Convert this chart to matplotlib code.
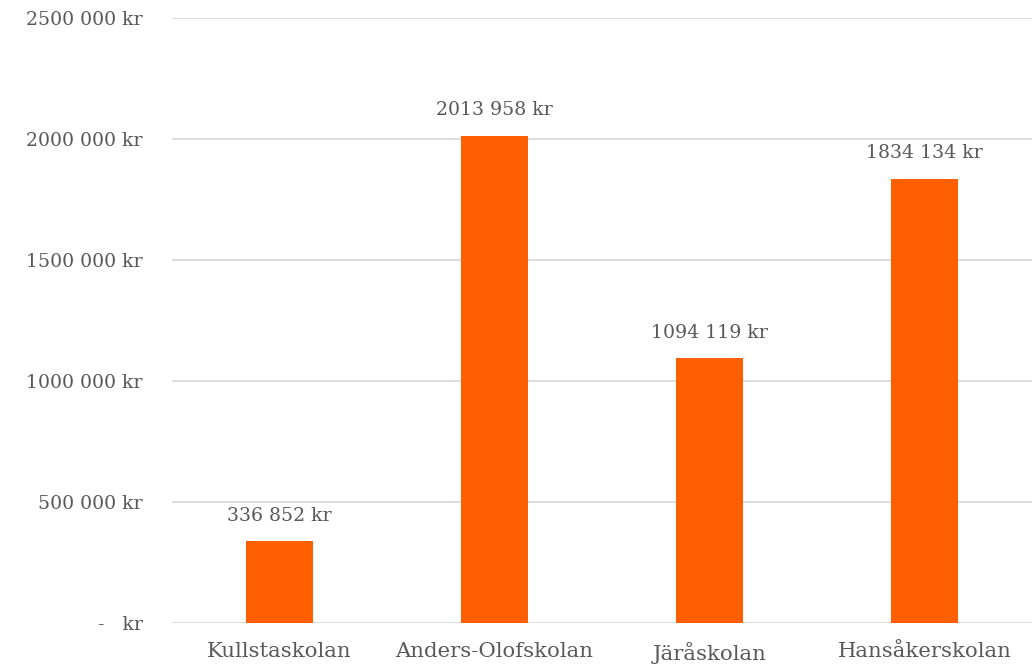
import matplotlib
matplotlib.use("Agg")
import matplotlib.pyplot as plt

schools = ["Kullstaskolan", "Anders-Olofskolan", "Järåskolan", "Hansåkerskolan"]
values = [336852, 2013958, 1094119, 1834134]
yticks = [0, 500000, 1000000, 1500000, 2000000, 2500000]

def fmt(v):
    v = int(round(v))
    if v == 0:
        return "-   kr"
    if v >= 1000:
        return f"{v // 1000} {v % 1000:03d} kr"
    return f"{v} kr"

plt.rcParams['font.family'] = ['DejaVu Serif']
text_color = "#595959"
fs = 13.6

fig = plt.figure(figsize=(10.32, 6.65), dpi=100)
ax = fig.add_axes([172/1032, 1 - 623/665, 1 - 172/1032, (623 - 18)/665])

x = list(range(len(schools)))
bars = ax.bar(x, values, width=0.315, color="#FF5F00", zorder=3)

ax.set_xlim(-0.5, 3.5)
ax.set_ylim(0, 2500000)
ax.set_yticks(yticks)
ax.set_yticklabels([fmt(v) for v in yticks])
ax.set_xticks(x)
ax.set_xticklabels(schools)
ax.grid(axis="y", color="#D9D9D9", linewidth=1.3, zorder=0)
for s in ax.spines.values():
    s.set_visible(False)
ax.tick_params(axis="y", length=0, pad=21, labelsize=fs, labelcolor=text_color)
ax.tick_params(axis="x", length=0, pad=13.5, labelsize=15.3, labelcolor=text_color)

for xi, v in zip(x, values):
    ax.annotate(fmt(v), (xi, v), xytext=(0, 12), textcoords="offset points",
                ha="center", va="bottom", fontsize=fs, color=text_color)

fig.savefig("out.png", dpi=100)
